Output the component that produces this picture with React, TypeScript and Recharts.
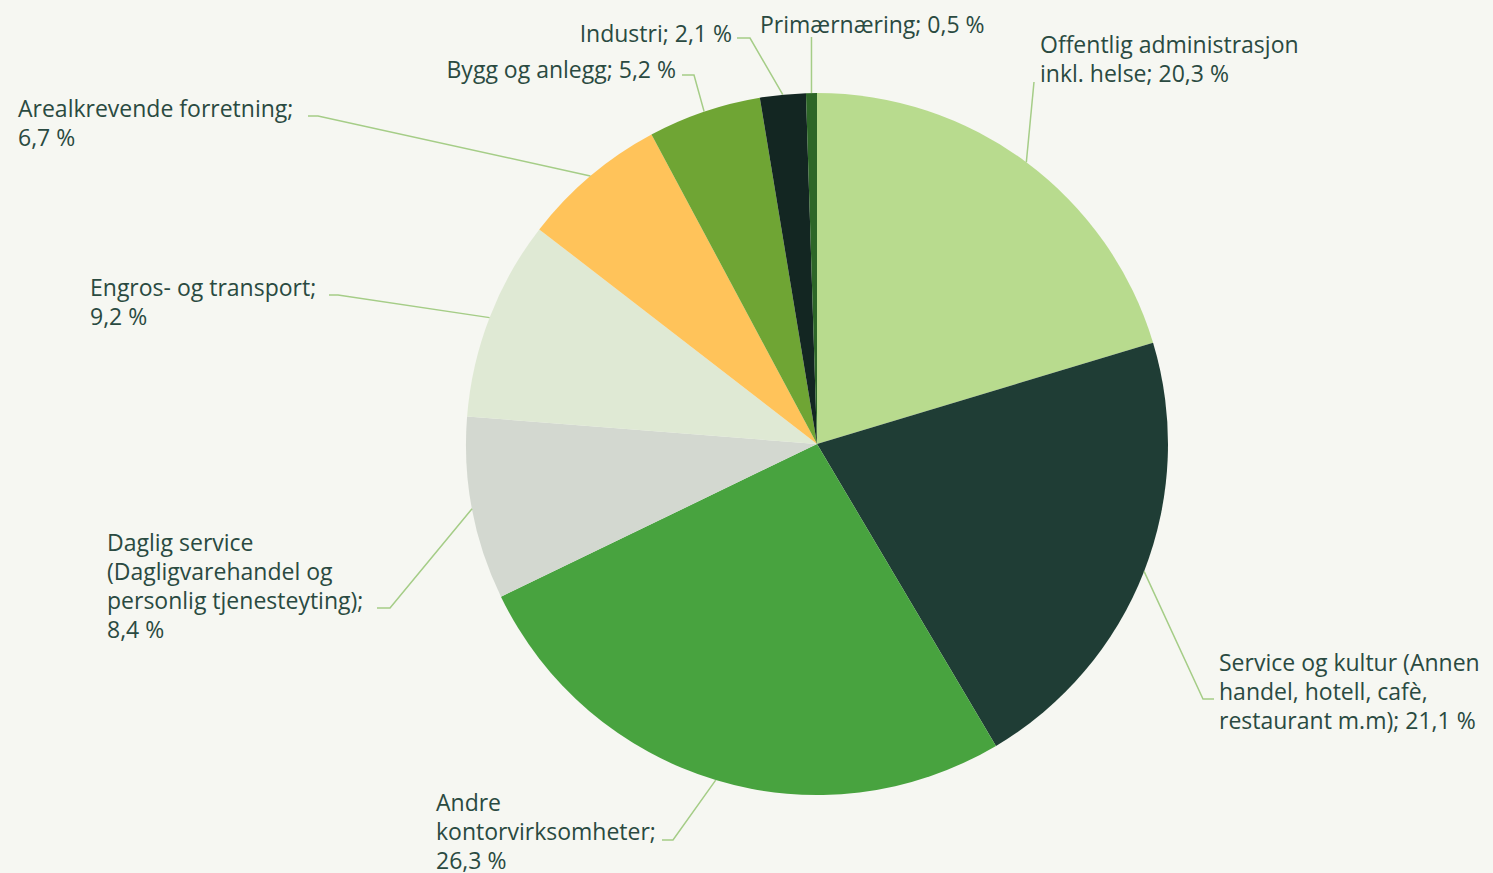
import { PieChart, Pie, Cell } from 'recharts'

// sectors, clockwise from 12 o'clock
const SECTORS = [
  'Offentlig administrasjon\ninkl. helse',
  'Service og kultur (Annen\nhandel, hotell, cafè,\nrestaurant m.m)',
  'Andre\nkontorvirksomheter',
  'Daglig service\n(Dagligvarehandel og\npersonlig tjenesteyting)',
  'Engros- og transport',
  'Arealkrevende forretning',
  'Bygg og anlegg',
  'Industri',
  'Primærnæring',
]
const SHARES = [20.3, 21.1, 26.3, 8.4, 9.2, 6.7, 5.2, 2.1, 0.5]
const PCT_ON_NEW_LINE = [false, false, true, true, true, true, false, false, false]

const COLORS = ['#b8db8e', '#1f3d35', '#48a33f', '#d3d8d0', '#dfe9d4', '#ffc35a', '#6fa534', '#132622', '#2d6627']

// label placement relative to pie centre: elbow point, text x, first baseline, anchor
const LABEL_LAYOUT = [
  { ex: 217, ey: -362, hx: 217, tx: 223, ty: -391, anchor: 'start' },
  { ex: 386, ey: 255, hx: 397, tx: 402, ty: 227, anchor: 'start' },
  { ex: -144, ey: 396, hx: -155, tx: -381, ty: 367, anchor: 'start' },
  { ex: -427, ey: 164, hx: -440, tx: -710, ty: 107, anchor: 'start' },
  { ex: -479, ey: -149, hx: -488, tx: -727, ty: -148, anchor: 'start' },
  { ex: -499, ey: -328, hx: -509, tx: -799, ty: -327, anchor: 'start' },
  { ex: -123, ey: -369, hx: -135, tx: -141, ty: -366, anchor: 'end' },
  { ex: -67, ey: -406, hx: -80, tx: -85, ty: -402, anchor: 'end' },
  { ex: null, ey: -407, hx: null, tx: -57, ty: -411, anchor: 'start' },
]

const TEXT = '#2a4a41'
const LINE = '#a5cd87'
const FONT = '"Open Sans", Lato, sans-serif'

const data = SECTORS.map((name, i) => ({ name, value: SHARES[i] }))

const fmt = (v: number) => v.toFixed(1).replace('.', ',')

function SliceLabel(props: any) {
  const { cx, cy, midAngle, outerRadius, index, value } = props
  const L = LABEL_LAYOUT[index]
  const rad = Math.PI / 180
  const sx = cx + outerRadius * Math.cos(-midAngle * rad)
  const sy = cy + outerRadius * Math.sin(-midAngle * rad)
  const ex = L.ex === null ? sx : cx + L.ex
  const ey = cy + L.ey
  const hx = L.hx === null ? ex : cx + L.hx
  const lines = (SECTORS[index] + ';' + (PCT_ON_NEW_LINE[index] ? '\n' : ' ') + fmt(value) + ' %').split('\n')
  return (
    <g>
      <polyline points={`${sx},${sy} ${ex},${ey} ${hx},${ey}`} fill="none" stroke={LINE} strokeWidth={1.5} />
      <text x={cx + L.tx} y={cy + L.ty} fill={TEXT} fontSize={23} fontFamily={FONT} textAnchor={L.anchor as any}>
        {lines.map((t, j) => (
          <tspan key={j} x={cx + L.tx} dy={j === 0 ? 0 : 29}>{t}</tspan>
        ))}
      </text>
    </g>
  )
}

export default function App() {
  return (
    <div style={{ position: 'fixed', left: 0, top: 0, width: 1493, height: 873, background: '#f6f7f2' }}>
      <PieChart width={1493} height={873} margin={{ top: 0, right: 0, bottom: 0, left: 0 }}>
        <Pie
          data={data}
          dataKey="value"
          nameKey="name"
          cx={817}
          cy={444}
          outerRadius={351}
          startAngle={90}
          endAngle={-270}
          stroke="none"
          labelLine={false}
          label={SliceLabel}
          isAnimationActive={false}
        >
          {data.map((d, i) => (
            <Cell key={d.name} fill={COLORS[i]} />
          ))}
        </Pie>
      </PieChart>
    </div>
  )
}
